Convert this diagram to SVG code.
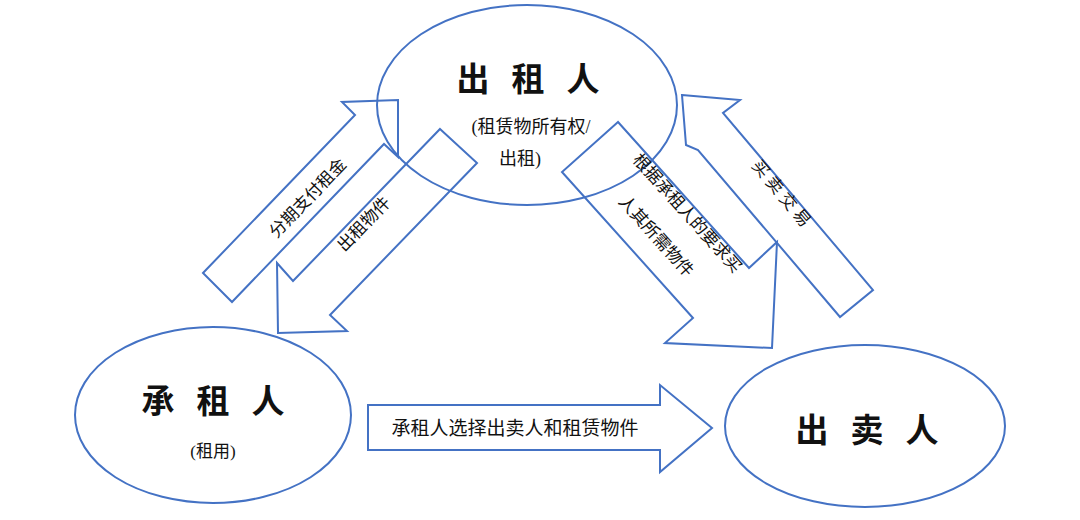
<svg xmlns="http://www.w3.org/2000/svg" width="1080" height="520" viewBox="0 0 1080 520">
<style>
.s{fill:none;stroke:#4472c4;stroke-width:2}
.t{font-family:"Liberation Serif","Noto Sans CJK SC",serif;fill:#111;text-anchor:middle}
.b{font-size:33px;font-weight:bold;font-family:"Noto Sans CJK SC",sans-serif;letter-spacing:22px}
.m{font-size:17px}
</style>
<rect width="1080" height="520" fill="#fff"/>
<g id="connectors">
<polygon class="s" points="203,273 355,115 342,102 398,100 398,157 384,144 232,302"/>
<polygon class="s" points="440,129 477,163 330,315 347,331 278,333 277,263 293,281"/>
<polygon class="s" points="618,122 562,172 693,318 665,343 772,348 777,242 749,268"/>
<polygon class="s" points="682,95 740,100 723,113 873,290 840,317 698,150 686,145"/>
<polygon class="s" points="368,405 660,405 660,385 712,428 660,472 660,450 368,450"/>
</g>
<g id="lessor">
<ellipse class="s" cx="527" cy="105" rx="150" ry="100"/>
<text class="t b" x="539" y="91">出租人</text>
<text class="t m" x="531" y="133" style="font-size:18px">(租赁物所有权/</text>
<text class="t m" x="520" y="165" style="font-size:18px">出租)</text>
</g>
<g id="lessee">
<ellipse class="s" cx="213" cy="415" rx="138" ry="88"/>
<text class="t b" x="224" y="413">承租人</text>
<text class="t m" x="213" y="457">(租用)</text>
</g>
<g id="seller">
<ellipse class="s" cx="865" cy="426" rx="140" ry="81"/>
<text class="t b" x="878" y="442">出卖人</text>
</g>
<g id="labels">
<text class="t m" transform="translate(312,202) rotate(-46)">分期支付租金</text>
<text class="t m" transform="translate(368,228) rotate(-46)">出租物件</text>
<text class="t m" transform="translate(683,217) rotate(48)">根据承租人的要求买</text>
<text class="t m" transform="translate(652,240) rotate(48)">人其所需物件</text>
<text class="t m" transform="translate(777,197) rotate(50)">买 卖 交 易</text>
<text class="t m" x="515" y="435" style="font-size:19px">承租人选择出卖人和租赁物件</text>
</g>
</svg>
